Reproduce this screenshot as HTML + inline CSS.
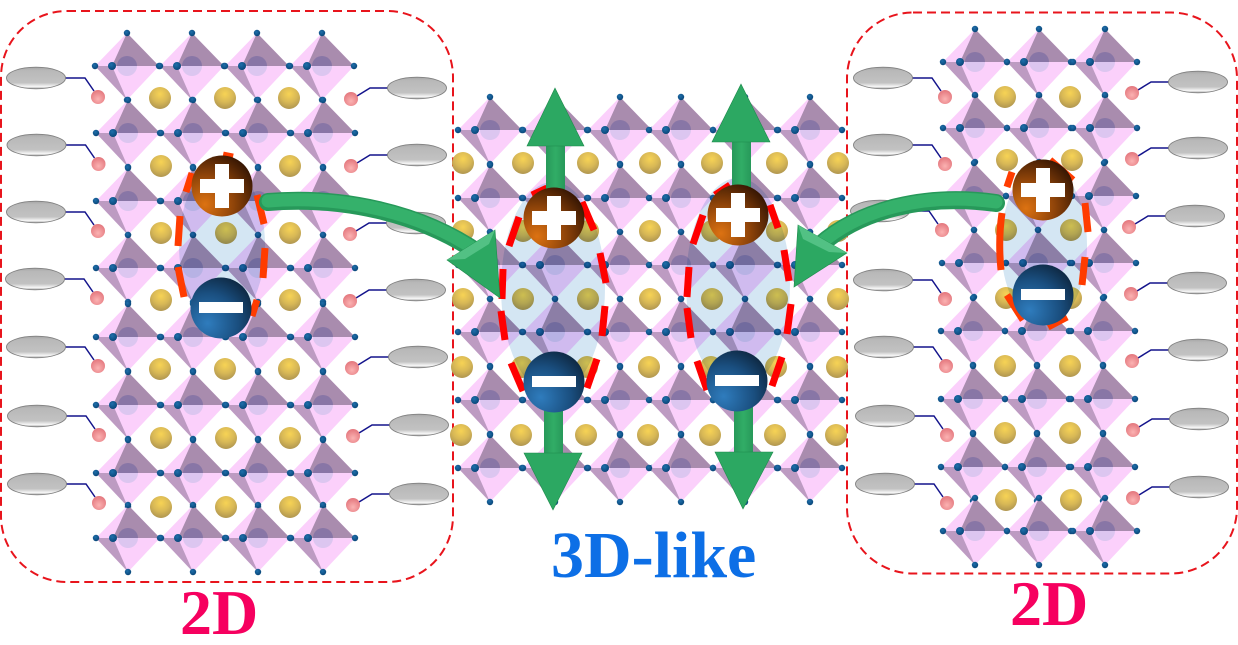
<!DOCTYPE html>
<html><head><meta charset="utf-8"><style>html,body{margin:0;padding:0;background:#fff}svg{display:block}</style></head>
<body>
<svg xmlns="http://www.w3.org/2000/svg" width="1238" height="645" viewBox="0 0 1238 645">
<defs>
<radialGradient id="dot" cx="40%" cy="35%" r="70%"><stop offset="0" stop-color="#1f6fab"/><stop offset="1" stop-color="#084476"/></radialGradient>
<radialGradient id="gold" cx="50%" cy="32%" r="68%"><stop offset="0" stop-color="#f7d355"/><stop offset=".55" stop-color="#d8b856"/><stop offset="1" stop-color="#b09650"/></radialGradient>
<radialGradient id="pink" cx="50%" cy="65%" r="60%"><stop offset="0" stop-color="#fbb2b2"/><stop offset="1" stop-color="#e57a80"/></radialGradient>
<linearGradient id="gray" x1="0" y1="0" x2="0" y2="1"><stop offset="0" stop-color="#a6a6a6"/><stop offset=".15" stop-color="#b8b8b8"/><stop offset=".72" stop-color="#c2c2c2"/><stop offset=".9" stop-color="#f8f8f8"/><stop offset="1" stop-color="#a0a0a0"/></linearGradient>
<radialGradient id="pl" cx="22%" cy="80%" r="95%"><stop offset="0" stop-color="#dc7212"/><stop offset=".5" stop-color="#8f4409"/><stop offset="1" stop-color="#2e1202"/></radialGradient>
<radialGradient id="mi" cx="28%" cy="75%" r="90%"><stop offset="0" stop-color="#2f7cbd"/><stop offset=".55" stop-color="#1a4f80"/><stop offset="1" stop-color="#0c2238"/></radialGradient>
<linearGradient id="gs" x1="0" y1="0" x2="1" y2="0"><stop offset="0" stop-color="#27995a"/><stop offset=".5" stop-color="#31ad66"/><stop offset="1" stop-color="#27995a"/></linearGradient>

<g id="o">
<polygon points="0,-33 -32,0 0,34 32,0" fill="#fbd0fb"/>
<polygon points="-32,0 -15,0 0,34" fill="#bd9bc2"/>
<polygon points="0,-33 -15,0 32,0" fill="#a98cae"/>
<path d="M-10,0a10,10 0 0 1 20,0z" fill="#8876a6"/>
<path d="M-10,0a10,10 0 0 0 20,0z" fill="#dcc6f0"/>
<circle cx="0" cy="-33" r="3.200" fill="url(#dot)"/>
<circle cx="-32" cy="0" r="3.200" fill="url(#dot)"/>
<circle cx="32" cy="0" r="3.200" fill="url(#dot)"/>
<circle cx="0" cy="34" r="3.200" fill="url(#dot)"/>
<circle cx="-15" cy="0" r="4" fill="url(#dot)"/>
</g>
<g id="r4"><use href="#o" x="0"/><use href="#o" x="65"/><use href="#o" x="130"/><use href="#o" x="195"/></g>
<g id="r3"><use href="#o" x="0"/><use href="#o" x="64"/><use href="#o" x="130"/></g>
<g id="r6"><use href="#o" x="0"/><use href="#o" x="65"/><use href="#o" x="130"/><use href="#o" x="191"/><use href="#o" x="255"/><use href="#o" x="320"/></g>
<circle id="g" r="11" fill="url(#gold)"/>
<g id="g3"><use href="#g" x="0"/><use href="#g" x="65"/><use href="#g" x="129"/></g>
<g id="g2"><use href="#g" x="0"/><use href="#g" x="65"/></g>
<g id="g7"><use href="#g" x="0"/><use href="#g" x="60"/><use href="#g" x="125"/><use href="#g" x="187"/><use href="#g" x="249"/><use href="#g" x="314"/><use href="#g" x="375"/></g>
<g id="L"><path d="M29,0H49L58,13" fill="none" stroke="#14148c" stroke-width="1.500"/><ellipse cx="0" cy="0" rx="29.500" ry="10.800" fill="url(#gray)" stroke="#808080" stroke-width=".9"/><circle cx="62" cy="19" r="7" fill="url(#pink)"/></g>
<g id="R"><path d="M-29,0H-47L-60,8" fill="none" stroke="#14148c" stroke-width="1.500"/><ellipse cx="0" cy="0" rx="29.500" ry="10.800" fill="url(#gray)" stroke="#808080" stroke-width=".9"/><circle cx="-66" cy="11" r="7" fill="url(#pink)"/></g>
<g id="P"><circle r="30.500" fill="url(#pl)"/><path d="M-7,-22H7V-7H22V7H7V22H-7V7H-22V-7H-7Z" fill="#fff"/></g>
<g id="M"><circle r="30.500" fill="url(#mi)"/><rect x="-22" y="-6" width="44" height="11" fill="#fff"/></g>
</defs>

<!-- dashed panels -->
<rect x="1" y="11" width="452" height="571" rx="66" ry="66" fill="none" stroke="#e8141c" stroke-width="2" stroke-dasharray="9 5"/>
<rect x="847" y="12.500" width="390" height="561" rx="66" ry="66" fill="none" stroke="#e8141c" stroke-width="2" stroke-dasharray="9 5"/>

<!-- left panel ligands -->
<use href="#L" x="36" y="78"/><use href="#L" x="36.500" y="145"/><use href="#L" x="36" y="212"/><use href="#L" x="35" y="279"/><use href="#L" x="36" y="347"/><use href="#L" x="37" y="416"/><use href="#L" x="37" y="484"/>
<use href="#R" x="417" y="88"/><use href="#R" x="417" y="155"/><use href="#R" x="416" y="223"/><use href="#R" x="416" y="290"/><use href="#R" x="418" y="357"/><use href="#R" x="419" y="425"/><use href="#R" x="419" y="494"/>

<!-- right panel ligands -->
<use href="#L" x="883" y="78"/><use href="#L" x="883" y="145"/><use href="#L" x="880" y="211"/><use href="#L" x="883" y="280"/><use href="#L" x="884" y="347"/><use href="#L" x="885" y="416"/><use href="#L" x="885" y="484"/>
<use href="#R" x="1198" y="82"/><use href="#R" x="1198" y="148"/><use href="#R" x="1195" y="216"/><use href="#R" x="1197" y="283"/><use href="#R" x="1198" y="350"/><use href="#R" x="1199" y="419"/><use href="#R" x="1199" y="487"/>

<!-- lattices -->
<g>
<use href="#r4" x="127" y="66"/><use href="#r4" x="128" y="133"/><use href="#r4" x="128" y="201"/><use href="#r4" x="128" y="268"/><use href="#r4" x="128" y="337"/><use href="#r4" x="128" y="405"/><use href="#r4" x="128" y="473"/><use href="#r4" x="128" y="538"/>
<use href="#g3" x="160" y="98"/><use href="#g3" x="161" y="166"/><use href="#g3" x="161" y="233"/><use href="#g3" x="161" y="300"/><use href="#g3" x="160" y="369"/><use href="#g3" x="161" y="438"/><use href="#g3" x="161" y="507"/>
</g>
<g>
<use href="#r6" x="490" y="130"/><use href="#r6" x="490" y="198"/><use href="#r6" x="490" y="265"/><use href="#r6" x="490" y="332"/><use href="#r6" x="490" y="400"/><use href="#r6" x="490" y="468"/>
<use href="#g7" x="463" y="163"/><use href="#g7" x="463" y="231"/><use href="#g7" x="463" y="299"/><use href="#g7" x="462" y="367"/><use href="#g7" x="461" y="435"/>
</g>
<g>
<use href="#r3" x="975" y="62"/><use href="#r3" x="975" y="128"/><use href="#r3" x="974" y="196"/><use href="#r3" x="974" y="263"/><use href="#r3" x="973" y="331"/><use href="#r3" x="973" y="399"/><use href="#r3" x="973" y="467"/><use href="#r3" x="975" y="531"/>
<use href="#g2" x="1005" y="97"/><use href="#g2" x="1007" y="160"/><use href="#g2" x="1006" y="230"/><use href="#g2" x="1006" y="298"/><use href="#g2" x="1005" y="366"/><use href="#g2" x="1005" y="433"/><use href="#g2" x="1006" y="500"/>
</g>

<!-- exciton clouds -->
<g fill="#d4e6f3" style="mix-blend-mode:multiply">
<ellipse cx="222" cy="245" rx="43" ry="80"/>
<ellipse cx="553" cy="288" rx="52" ry="106"/>
<ellipse cx="738" cy="284" rx="52" ry="106"/>
<ellipse cx="1044" cy="245" rx="43" ry="80"/>
</g>

<!-- dashed ellipses -->
<g stroke="#ff3c00" stroke-width="7" fill="none">
<path d="M192,173L186,192M180,216L178,246M178,267L184,297M223,155L233,157M257,195L264,224M265,248L263,278M257,300L252,316"/>
<path d="M1012,172L1007,187M1002,213Q998,240 1001,270M1007,295L1023,320M1048,327L1067,317M1085,203L1088,232M1085,257L1082,285M1050,160L1073,180"/>
</g>
<g stroke="#ff0000" stroke-width="7" fill="none">
<path d="M519,217L509,246M503,269L502,299M501,311L505,340M511,363L523,391M597,359L587,388M605,306L602,336M600,253L606,283M582,202L594,230M532,195L547,188"/>
<path d="M703,215L693,244M689,267L687,297M687,308L691,338M697,361L707,390M782,357L772,386M791,304L787,334M784,250L789,281M770,205L778,228M715,195L730,185"/>
</g>

<!-- straight arrows (behind charges) -->
<rect x="546" y="140" width="19" height="60" fill="url(#gs)"/>
<polygon points="555,88 527,146 584,146" fill="#2ca862" stroke="#1f8a4c" stroke-width=".6"/>
<rect x="732" y="136" width="19" height="60" fill="url(#gs)"/>
<polygon points="741,84 712,142 770,142" fill="#2ca862" stroke="#1f8a4c" stroke-width=".6"/>
<rect x="544" y="400" width="19" height="56" fill="url(#gs)"/>
<polygon points="524,453 582,453 553,510" fill="#2ca862" stroke="#1f8a4c" stroke-width=".6"/>
<rect x="734" y="400" width="19" height="56" fill="url(#gs)"/>
<polygon points="715,452 773,452 743,509" fill="#2ca862" stroke="#1f8a4c" stroke-width=".6"/>

<!-- charges -->
<use href="#P" x="222" y="186"/><use href="#M" x="221" y="308"/>
<use href="#P" x="554" y="218"/><use href="#M" x="554" y="382"/>
<use href="#P" x="738" y="215"/><use href="#M" x="737" y="381"/>
<use href="#P" x="1043" y="190"/><use href="#M" x="1043" y="295"/>

<!-- curved arrows -->
<path d="M268,202C340,196 420,212 480,254" fill="none" stroke="#27995a" stroke-width="18" stroke-linecap="round"/>
<path d="M268,201C340,195 420,211 480,253" fill="none" stroke="#35b16b" stroke-width="13" stroke-linecap="round"/>
<polygon points="495,230 447,260 500,298" fill="#2ca862" stroke="#1f8a4c" stroke-width=".6"/>
<polygon points="495,230 447,260 465,259 489,244" fill="#52c184"/>
<path d="M996,203C925,193 860,210 820,245" fill="none" stroke="#27995a" stroke-width="18" stroke-linecap="round"/>
<path d="M996,202C925,192 860,209 820,244" fill="none" stroke="#35b16b" stroke-width="13" stroke-linecap="round"/>
<polygon points="798,225 847,253 794,287" fill="#2ca862" stroke="#1f8a4c" stroke-width=".6"/>
<polygon points="798,225 847,253 829,252 803,239" fill="#52c184"/>

<!-- labels -->
<g font-family="'Liberation Serif',serif" font-weight="bold">
<text x="180" y="634" font-size="64" fill="#f6005f">2D</text>
<text x="1010" y="625" font-size="64" fill="#f6005f">2D</text>
<text x="551" y="577" font-size="66" fill="#0d6fe6">3D-like</text>
</g>
</svg>
</body></html>
